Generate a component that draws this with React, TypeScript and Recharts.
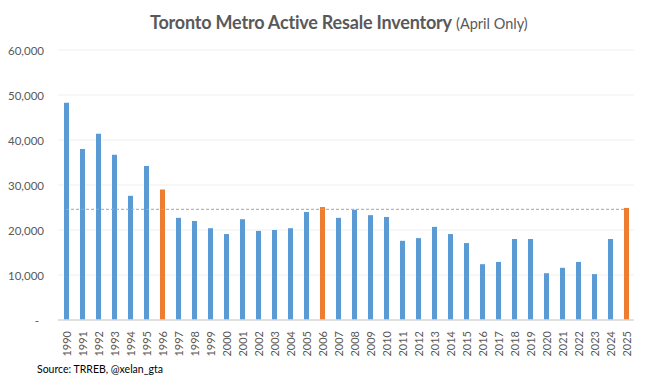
import React from "react";
import {
  ComposedChart,
  Bar,
  Cell,
  XAxis,
  YAxis,
  CartesianGrid,
  ReferenceLine,
} from "recharts";

const years = [
  "1990", "1991", "1992", "1993", "1994", "1995", "1996", "1997", "1998", "1999",
  "2000", "2001", "2002", "2003", "2004", "2005", "2006", "2007", "2008", "2009",
  "2010", "2011", "2012", "2013", "2014", "2015", "2016", "2017", "2018", "2019",
  "2020", "2021", "2022", "2023", "2024", "2025",
];

const inventory = [
  48300, 38000, 41400, 36700, 27600, 34200, 29000, 22700, 22000, 20400,
  19100, 22400, 19800, 20000, 20400, 24000, 25100, 22700, 24500, 23300,
  22900, 17600, 18200, 20700, 19100, 17100, 12400, 12900, 18000, 18000,
  10400, 11600, 12900, 10200, 18000, 24900,
];

const highlighted = ["1996", "2006", "2025"];
const average = 24600;
const yTicks = [0, 10000, 20000, 30000, 40000, 50000, 60000];

const data = years.map((year, i) => ({ year, value: inventory[i] }));

const FONT = "Lato, 'Open Sans', sans-serif";
const GREY = "#595959";

function YearTick(props: any) {
  const { x, y, payload } = props;
  const ty = y + 3;
  return (
    <text
      x={x}
      y={ty}
      transform={`rotate(-90, ${x}, ${ty})`}
      textAnchor="end"
      dominantBaseline="central"
      fontSize={11}
      fontFamily={FONT}
      fill={GREY}
    >
      {payload.value}
    </text>
  );
}

function ValueTick(props: any) {
  const { x, y, payload } = props;
  const v = payload.value as number;
  return (
    <text
      x={v === 0 ? x - 5 : x}
      y={y}
      textAnchor="end"
      dominantBaseline="central"
      fontSize={11.5}
      fontFamily={FONT}
      fill={GREY}
    >
      {v === 0 ? "-" : v.toLocaleString("en-US")}
    </text>
  );
}

export default function App() {
  return (
    <div style={{ margin: -8, width: 648, height: 383, position: "relative", background: "#fff" }}>
      <div
        style={{
          position: "absolute",
          top: 11,
          left: 150,
          fontFamily: FONT,
          color: GREY,
          whiteSpace: "nowrap",
        }}
      >
        <span style={{ fontSize: 18, fontWeight: 700, letterSpacing: -0.2 }}>
          Toronto Metro Active Resale Inventory
        </span>{" "}
        <span style={{ fontSize: 14.5 }}>(April Only)</span>
      </div>

      <ComposedChart
        width={648}
        height={383}
        data={data}
        margin={{ top: 50, right: 14, bottom: 23, left: 0 }}
        barCategoryGap={0}
      >
        <CartesianGrid vertical={false} stroke="#efefef" />
        <XAxis
          dataKey="year"
          interval={0}
          tickLine={false}
          axisLine={{ stroke: "#d9d9d9", strokeWidth: 1.5 }}
          height={40}
          tick={<YearTick />}
        />
        <YAxis
          domain={[0, 60000]}
          ticks={yTicks}
          width={58}
          tickLine={false}
          axisLine={false}
          tickMargin={8}
          tick={<ValueTick />}
        />
        <Bar dataKey="value" barSize={5} isAnimationActive={false}>
          {data.map((d) => (
            <Cell
              key={d.year}
              fill={highlighted.includes(d.year) ? "#ED7D31" : "#5B9BD5"}
            />
          ))}
        </Bar>
        <ReferenceLine
          segment={[
            { x: years[0], y: average },
            { x: years[years.length - 1], y: average },
          ]}
          stroke="#a6a6a6"
          strokeDasharray="3 2"
          strokeWidth={1}
        />
      </ComposedChart>

      <div
        style={{
          position: "absolute",
          top: 363,
          left: 37,
          fontFamily: FONT,
          fontSize: 10.5,
          color: "#000",
          whiteSpace: "nowrap",
        }}
      >
        Source: TRREB, @xelan_gta
      </div>
    </div>
  );
}
